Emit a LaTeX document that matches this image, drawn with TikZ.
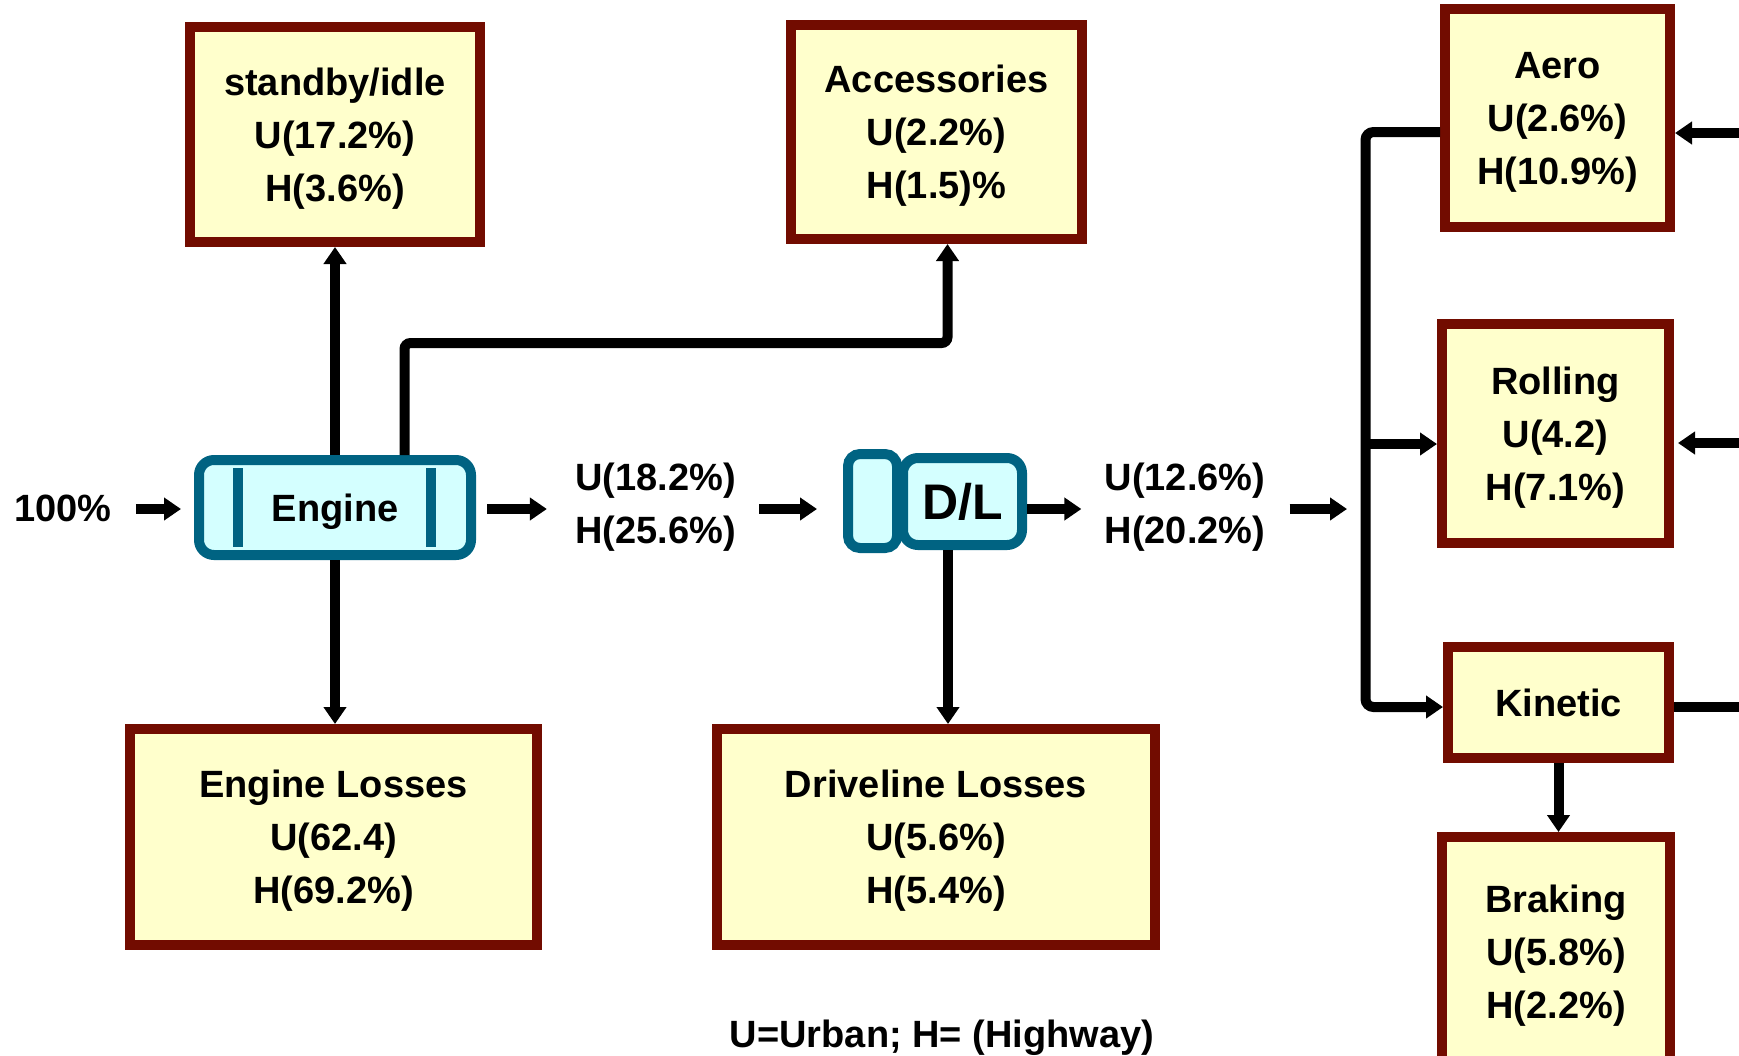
\documentclass[tikz,border=0pt]{standalone}
\usepackage{fontspec}
\setmainfont{Liberation Sans}
\usetikzlibrary{arrows.meta,calc}

\definecolor{lossred}{HTML}{720C00}
\definecolor{lossfill}{HTML}{FFFFCC}
\definecolor{unitblue}{HTML}{006382}
\definecolor{unitfill}{HTML}{D4FFFF}

\tikzset{
  txt/.style={font=\bfseries\fontsize{19}{26.5}\selectfont, align=center, inner sep=0pt},
  lowered/.style={text depth=0pt},
  loss/.style={txt, lowered, draw=lossred, fill=lossfill, line width=5pt},
  unit/.style={txt, draw=unitblue, fill=unitfill, line width=5pt, rounded corners=7.5pt},
  flow/.style={line width=5pt, -{Triangle[width=11pt,length=8.5pt]}},
  wire/.style={line width=5pt}
}

\begin{document}
\begin{tikzpicture}[x=0.5pt,y=-0.5pt]
    \fill[white] (0,0) rectangle (1739,1055);
    \useasboundingbox (0,0) rectangle (1739,1055);

    % where the lines run
    \coordinate (row) at (0,509);
    \coordinate (bus) at (1365.5,509);
    \coordinate (accturn) at (947.5,343);
    \coordinate (dlx) at (948,0);
    \coordinate (aerolvl) at (0,132);
    \coordinate (rolllvl) at (0,444);
    \coordinate (kinlvl) at (0,707);
    \coordinate (aeroR) at (1760,133);
    \coordinate (rollR) at (1760,443);
    \coordinate (kinR) at (1760,707);

    % losses
    \node[loss, minimum width=145pt, minimum height=107.5pt] (idle) at (335,134.5) {standby/idle\\U(17.2\%)\\H(3.6\%)};
    \node[loss, minimum width=145.5pt, minimum height=107pt] (acc) at (936.5,132) {Accessories\\U(2.2\%)\\H(1.5)\%};
    \node[loss, minimum width=203.5pt, minimum height=108pt] (eloss) at (333.5,837) {Engine Losses\\U(62.4)\\H(69.2\%)};
    \node[loss, minimum width=219pt, minimum height=108pt] (dloss) at (936,837) {Driveline Losses\\U(5.6\%)\\H(5.4\%)};
    \node[loss, minimum width=112.5pt, minimum height=109pt] (aero) at (1557.5,118) {Aero\\U(2.6\%)\\H(10.9\%)};
    \node[loss, minimum width=113.5pt, minimum height=109.5pt] (rolling) at (1555.5,433.5) {Rolling\\U(4.2)\\H(7.1\%)};
    \node[loss, minimum width=110.5pt, minimum height=55.5pt] (kinetic) at (1558.5,702.5) {Kinetic};
    \node[loss, minimum width=114pt, minimum height=115pt] (braking) at (1556,952) {Braking\\U(5.8\%)\\H(2.2\%)};

    % engine and driveline
    \node[unit, lowered, minimum width=136pt, minimum height=47.5pt] (engine) at (335,507.5) {Engine};
    \draw[unitblue, line width=5pt] ($(engine.west)+(44,-39.5)$) -- ++(0,79);
    \draw[unitblue, line width=5pt] ($(engine.east)+(-45,-39.5)$) -- ++(0,79);
    \node[unit, rounded corners=6pt, minimum width=24.5pt, minimum height=47pt] (dlcap) at (872.5,501) {};
    \node[unit, minimum width=59.5pt, minimum height=43.5pt, font=\bfseries\fontsize{25}{30}\selectfont] (dl) at (962.5,501.5) {D/L};

    % labels
    \node[txt] (in100) at (63,508) {100\%};
    \node[txt] (mid1) at (655.5,507) {U(18.2\%)\\H(25.6\%)};
    \node[txt] (mid2) at (1185,507) {U(12.6\%)\\H(20.2\%)};
    \node[txt, anchor=base] (key) at (942,1047) {U=Urban; H= (Highway)};

    % main flow
    \draw[flow, shorten <=12pt, shorten >=6.5pt] (in100.east |- row) -- (engine.west |- row);
    \draw[flow, shorten <=5.5pt, shorten >=14pt] (engine.east |- row) -- (mid1.west |- row);
    \draw[flow, shorten <=11.5pt, shorten >=13pt] (mid1.east |- row) -- (dlcap.west |- row);
    \draw[flow, shorten >=11.5pt] (dl.east |- row) -- (mid2.west |- row);
    \draw[flow, shorten <=12pt, shorten >=9.25pt] (mid2.east |- row) -- (bus);

    % branches
    \draw[flow] (engine) -- (idle);
    \draw[flow] (engine.south) -- (engine.south |- eloss.north);
    \draw[flow, rounded corners=3pt] ([xshift=34.75pt]engine.north) |- (accturn) -- (acc.south -| accturn);
    \draw[flow] (dl.south -| dlx) -- (dloss.north -| dlx);

    \draw[flow, rounded corners=4pt] (aero.west |- aerolvl) -| (bus) |- (kinetic.west |- kinlvl);
    \draw[flow] (bus |- rolllvl) -- (rolling.west |- rolllvl);
    \draw[flow] (aeroR) -- (aero.east |- aeroR);
    \draw[flow, shorten >=2pt] (rollR) -- (rolling.east |- rollR);
    \draw[wire] (kinetic.east |- kinlvl) -- (kinR);
    \draw[flow] (kinetic) -- (kinetic.south |- braking.north);
\end{tikzpicture}
\end{document}
